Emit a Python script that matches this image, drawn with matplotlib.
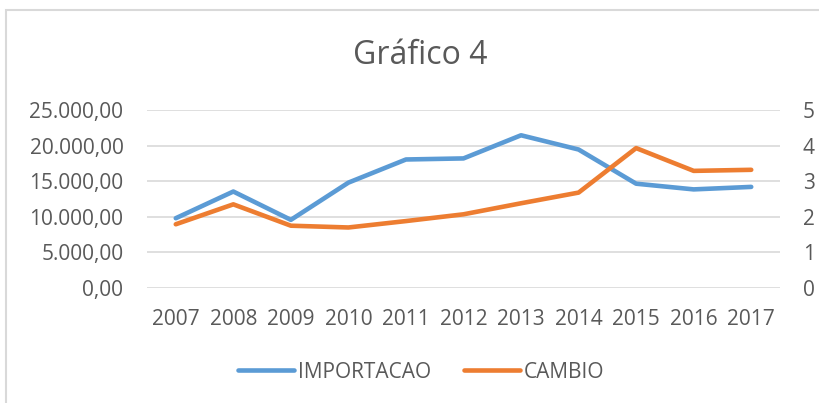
import matplotlib.pyplot as plt
from matplotlib.patches import Rectangle
from matplotlib.ticker import FuncFormatter

years = ['2007', '2008', '2009', '2010', '2011', '2012', '2013', '2014', '2015', '2016', '2017']
importacao = [9800, 13550, 9570, 14800, 18050, 18200, 21450, 19450, 14650, 13850, 14200]
cambio = [1.79, 2.35, 1.75, 1.70, 1.88, 2.07, 2.38, 2.68, 3.93, 3.29, 3.32]
left_ticks = [0, 5000, 10000, 15000, 20000, 25000]
right_ticks = [0, 1, 2, 3, 4, 5]

BLUE = '#5B9BD5'
ORANGE = '#ED7D31'
TXT = '#595959'
GRID = '#D9D9D9'

plt.rcParams['font.family'] = ['Open Sans', 'DejaVu Sans']

def br_fmt(v, pos):
    s = f'{v:,.2f}'
    return s.replace(',', 'X').replace('.', ',').replace('X', '.')

W, H = 819, 403
fig = plt.figure(figsize=(W / 100, H / 100), dpi=100)
# chart frame (cropped at right and bottom like the screenshot)
fig.patches.append(Rectangle((6 / W, -0.1), 1.2, (H - 10) / H + 0.1, transform=fig.transFigure,
                             fill=False, edgecolor=GRID, linewidth=1.5))

ax = fig.add_axes([147 / W, 1 - 288 / H, (780 - 147) / W, (288 - 110) / H])
ax2 = ax.twinx()

x = list(range(len(years)))
ax.plot(x, importacao, color=BLUE, lw=3.3, solid_capstyle='round', solid_joinstyle='round', label='IMPORTACAO', zorder=3)
ax2.plot(x, cambio, color=ORANGE, lw=3.3, solid_capstyle='round', solid_joinstyle='round', label='CAMBIO', zorder=3)

ax.set_xlim(-0.5, len(years) - 0.5)
ax.set_ylim(0, 25000)
ax2.set_ylim(0, 5)
ax.set_yticks(left_ticks)
ax2.set_yticks(right_ticks)
ax.yaxis.set_major_formatter(FuncFormatter(br_fmt))
ax.set_xticks(x)
ax.set_xticklabels(years)

ax.grid(axis='y', color=GRID, lw=1.2)
ax.set_axisbelow(True)
for a in (ax, ax2):
    for s in a.spines.values():
        s.set_visible(False)
    a.tick_params(length=0, labelsize=15, labelcolor=TXT)
ax.tick_params(axis='y', pad=17)
ax.tick_params(axis='x', pad=15)
ax2.tick_params(axis='y', pad=16.5)

fig.text(420 / W, 1 - 55.5 / H, 'Gráfico 4', ha='center', va='center', fontsize=23, color=TXT)

h1, l1 = ax.get_legend_handles_labels()
h2, l2 = ax2.get_legend_handles_labels()
fig.legend(h1 + h2, l1 + l2, loc='center', bbox_to_anchor=(421 / W, 1 - 372 / H), ncol=2, frameon=False,
           fontsize=15, labelcolor=TXT, handlelength=2.7, handletextpad=0.15, columnspacing=1.6)

fig.savefig('out.png', dpi=100)
